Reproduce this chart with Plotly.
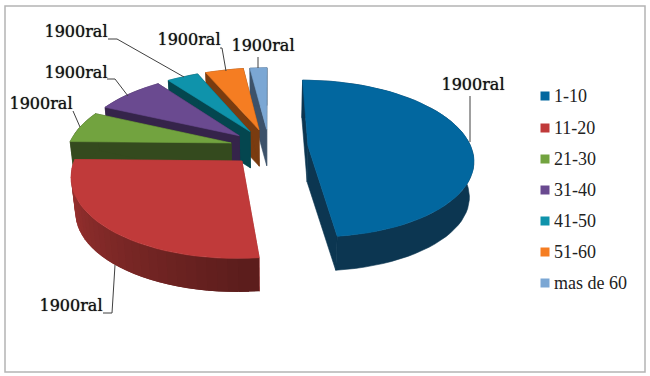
import numpy as np
import plotly.graph_objects as go

# ---- data ----
categories = ["1-10", "11-20", "21-30", "31-40", "41-50", "51-60", "mas de 60"]
values = [48.2, 27.1, 6.5, 8, 3.7, 4.5, 2]
data_labels = ["1900ral"] * 7
top_colors = ["#02679f", "#c03a3a", "#72a33f", "#6a4a90", "#0f93ab", "#f57d22", "#7ba7d4"]
wall_colors = ["#0c3651", "#a83634", "#344a1e", "#35244a", "#04464f", "#7a3c10", "#3d526a"]

# ---- styling / projection of the tilted pie ----
CX, CY, RX, RY, K, EXPLODE, DEPTH, SHRINK = 269, 147, 163, 76.7, 0.161, 0.24, 36, 0.022
label_pos = [(473, 86), (71, 307), (41, 105), (76, 74), (76, 33), (189, 41), (263, 47)]
leader_paths = [
    [(470, 96), (470, 142)],
    [(103, 313), (112, 313), (115, 265)],
    [(73, 111), (80, 127)],
    [(107, 79), (115, 79), (128, 96)],
    [(108, 39), (117, 39), (184, 77)],
    [(220, 48), (222, 48), (226, 71)],
    [(258, 57), (258, 68)],
]
legend_y = [96, 128, 159, 190, 221, 252, 283]
LEGEND_X, LEGEND_TEXT_X = 545, 553


def project(X, Y, z=0.0):
    w = 1 + K * Y
    s = 1 - SHRINK * z
    return CX + RX * X / w * s, CY - RY * Y / w * s + DEPTH * z


def shade(hex_color, f):
    r, g, b = [int(hex_color[i:i + 2], 16) for i in (1, 3, 5)]
    return f"rgb({int(r * f)},{int(g * f)},{int(b * f)})"


def poly(fig, xs, ys, color, lw=0.6):
    fig.add_trace(go.Scatter(x=xs, y=ys, mode="lines", fill="toself", fillcolor=color,
                             line=dict(color=color, width=lw), hoverinfo="skip", showlegend=False))


fig = go.Figure()
total = sum(values)
edges = np.cumsum([0] + values) / total * 2 * np.pi

for i in reversed(range(len(values))):
    a0, a1 = edges[i], edges[i + 1]
    mid = (a0 + a1) / 2
    ex, ey = EXPLODE * np.sin(mid), EXPLODE * np.cos(mid)
    th = np.linspace(a0, a1, max(4, int(np.degrees(a1 - a0) / 3) + 1))
    AX, AY = ex + np.sin(th), ey + np.cos(th)

    # the two cut faces
    for t in (a0, a1):
        x0, y0 = project(ex, ey)
        x1, y1 = project(ex + np.sin(t), ey + np.cos(t))
        x2, y2 = project(ex + np.sin(t), ey + np.cos(t), 1)
        x3, y3 = project(ex, ey, 1)
        poly(fig, [x0, x1, x2, x3, x0], [y0, y1, y2, y3, y0], wall_colors[i])

    # the rim: one solid band, except the red slice which darkens towards the front
    if i == 1:
        n = len(th) - 1
        for j in range(n - 1, -1, -1):
            k = min(j + 2, n)
            x0, y0 = project(AX[j:k + 1], AY[j:k + 1])
            x1, y1 = project(AX[j:k + 1], AY[j:k + 1], 1)
            f = 0.55 + 0.45 * j / n
            poly(fig, [*x0, *x1[::-1], x0[0]], [*y0, *y1[::-1], y0[0]], shade(wall_colors[i], f), lw=0)
    else:
        x0, y0 = project(AX, AY)
        x1, y1 = project(AX, AY, 1)
        poly(fig, [*x0, *x1[::-1], x0[0]], [*y0, *y1[::-1], y0[0]], wall_colors[i])

    # top face
    tx, ty = project(AX, AY)
    ax, ay = project(ex, ey)
    poly(fig, [ax, *tx, ax], [ay, *ty, ay], top_colors[i])

# leader lines
for path in leader_paths:
    fig.add_trace(go.Scatter(x=[p[0] for p in path], y=[p[1] for p in path], mode="lines",
                             line=dict(color="#404040", width=1), hoverinfo="skip", showlegend=False))

# data labels
fig.add_trace(go.Scatter(x=[p[0] for p in label_pos], y=[p[1] for p in label_pos], mode="text",
                         text=data_labels, textposition="middle center",
                         textfont=dict(family="DejaVu Serif", size=16, color="#111111",
                                       shadow="0 0 1px rgba(0,0,0,0.7)"),
                         hoverinfo="skip", showlegend=False))

# legend
for cat, col, y in zip(categories, top_colors, legend_y):
    fig.add_trace(go.Scatter(x=[LEGEND_X], y=[y], mode="markers",
                             marker=dict(symbol="square", size=9, color=col),
                             hoverinfo="skip", showlegend=False))
    fig.add_annotation(x=LEGEND_TEXT_X, y=y, text=cat, showarrow=False, xanchor="left", yanchor="middle",
                       xshift=-1, font=dict(family="Liberation Serif", size=18, color="#222222"))

fig.update_layout(
    width=650, height=376, margin=dict(l=0, r=0, t=0, b=0),
    paper_bgcolor="white", plot_bgcolor="white", showlegend=False,
    xaxis=dict(range=[0, 650], visible=False, fixedrange=True),
    yaxis=dict(range=[376, 0], visible=False, fixedrange=True),
    shapes=[dict(type="rect", xref="x", yref="y", x0=5, y0=6, x1=645, y1=372,
                 line=dict(color="#b4b4b4", width=1.5), fillcolor="rgba(0,0,0,0)", layer="below")],
)
fig.write_html("out.html", config={"displayModeBar": False},
               post_script="document.body.style.margin='0';document.documentElement.style.overflow='hidden';")
